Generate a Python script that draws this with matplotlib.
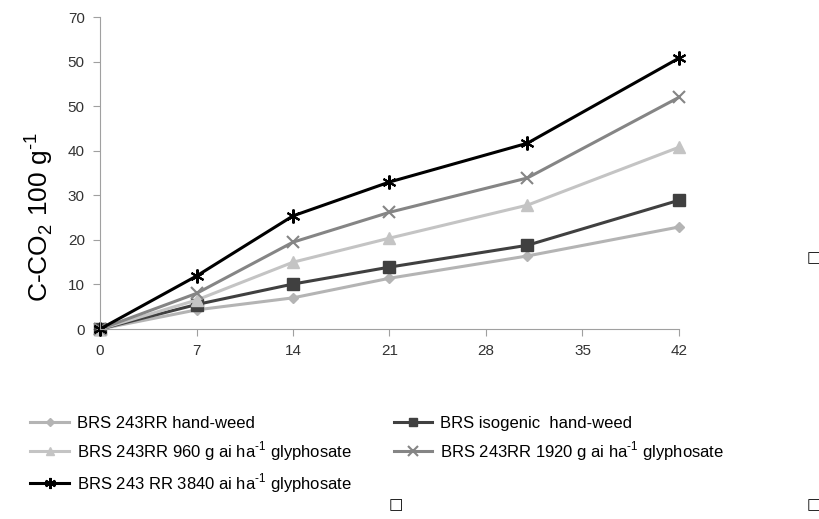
import numpy as np
import matplotlib
matplotlib.use("Agg")
from matplotlib import pyplot as plt

plt.rcParams['font.family'] = ['Liberation Sans', 'DejaVu Sans']
plt.rcParams['mathtext.fontset'] = 'custom'
plt.rcParams['mathtext.rm'] = 'Liberation Sans'

# days after application
days = [0, 7, 14, 21, 31, 42]

# C-CO2 evolved per treatment
hand_weed = [0, 4.3, 7.0, 11.4, 16.4, 22.9]
isogenic = [0, 5.5, 10.1, 13.9, 18.8, 28.9]
gly_960 = [0, 6.5, 15.0, 20.4, 27.8, 40.8]
gly_1920 = [0, 8.0, 19.5, 26.2, 33.9, 52.0]
gly_3840 = [0, 11.9, 25.4, 33.0, 41.7, 60.8]

sup = "$^{\\mathregular{\u20101}}$"
labels = ["BRS 243RR hand-weed",
          "BRS isogenic  hand-weed",
          "BRS 243RR 960 g ai ha" + sup + " glyphosate",
          "BRS 243RR 1920 g ai ha" + sup + " glyphosate",
          "BRS 243 RR 3840 ai ha" + sup + " glyphosate"]

xticks = [0, 7, 14, 21, 28, 35, 42]
yticks = [0, 10, 20, 30, 40, 50, 60, 70]
ytick_labels = ["0", "10", "20", "30", "40", "50", "50", "70"]

fig = plt.figure(figsize=(8.2, 5.19), dpi=100)
ax = fig.add_axes([0.122, 0.366, 0.706, 0.601])

l1, = ax.plot(days, hand_weed, color='#b4b4b4', lw=2.2, marker='D', ms=5.5, clip_on=False)
l2, = ax.plot(days, isogenic, color='#404040', lw=2.2, marker='s', ms=8, clip_on=False)
l3, = ax.plot(days, gly_960, color='#c4c4c4', lw=2.2, marker='^', ms=8, clip_on=False)
l4, = ax.plot(days, gly_1920, color='#858585', lw=2.2, marker='x', ms=9, mew=1.5, clip_on=False)
l5, = ax.plot(days, gly_3840, color='#000000', lw=2.2, marker=(6, 2, 0), ms=10, mew=1.5, clip_on=False)

ax.set_xlim(0, 42)
ax.set_ylim(0, 70)
ax.set_xticks(xticks)
ax.set_yticks(yticks)
ax.set_yticklabels(ytick_labels)
for s in ['top', 'right']:
    ax.spines[s].set_visible(False)
for s in ['left', 'bottom']:
    ax.spines[s].set_color('#a0a0a0')
ax.tick_params(colors='#a0a0a0', labelcolor='#333333', labelsize=11, length=5, pad=6)
ax.set_ylabel("C-CO$_\\mathregular{2}$ 100 g" + sup, fontsize=19)
ax.yaxis.set_label_coords(-0.078, 0.36)

fig.legend([l1, l3, l5, l2, l4], [labels[0], labels[2], labels[4], labels[1], labels[3]],
           ncol=2, frameon=False, loc='upper left', bbox_to_anchor=(0.029, 0.212),
           fontsize=12, handlelength=2.3, columnspacing=2.5, labelspacing=0.5,
           handletextpad=0.5, borderaxespad=0, markerscale=0.8)

# small boxes left over in the original figure
for x, y in [(0.992, 0.503), (0.483, 0.027), (0.992, 0.027)]:
    fig.text(x, y, "\u25a1", fontsize=11, ha='center', va='center', family='DejaVu Sans')

fig.savefig("out.png", dpi=100)
